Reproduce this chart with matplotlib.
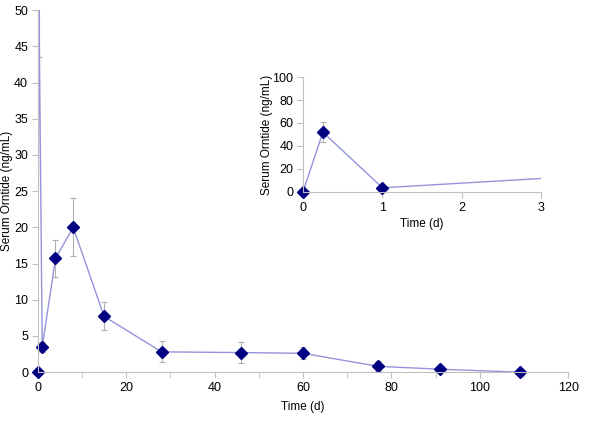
import numpy as np
import matplotlib.pyplot as plt

plt.rcParams['font.family'] = ['Liberation Sans', 'DejaVu Sans']

# serum ornitide over time
time_d = [0, 0.25, 1, 4, 8, 15, 28, 46, 60, 77, 91, 109]
conc = [0, 52, 3.5, 15.7, 20, 7.7, 2.8, 2.7, 2.6, 0.8, 0.4, 0]
err = [0, 8.5, 0.7, 2.6, 4.0, 1.95, 1.45, 1.45, 0.85, 0.7, 0.3, 0]

main_xticks = [0, 20, 40, 60, 80, 100, 120]
main_yticks = [0, 5, 10, 15, 20, 25, 30, 35, 40, 45, 50]
inset_xticks = [0, 1, 2, 3]
inset_yticks = [0, 20, 40, 60, 80, 100]

line_col = '#9494dc'
mark_col = '#000080'
err_col = '#b0b0b0'
axis_col = '#c0c0c0'

t = np.array(time_d)
c = np.array(conc)


def style(ax):
    for s in ['top', 'right']:
        ax.spines[s].set_visible(False)
    for s in ['left', 'bottom']:
        ax.spines[s].set_color(axis_col)
    ax.tick_params(colors=axis_col, labelcolor='black', labelsize=9,
                   direction='out', length=4, pad=3)


def draw(ax, xmax, ymax):
    ax.errorbar(t, c, yerr=err, fmt='none', ecolor=err_col, elinewidth=0.8,
                capsize=2.5, capthick=0.8)
    ax.plot(t, c, color=line_col, lw=1)
    keep = (c <= ymax) & (t <= xmax)
    ax.plot(t[keep], c[keep], 'D', color=mark_col, ms=6, clip_on=False)
    ax.set_xlim(0, xmax)
    ax.set_ylim(0, ymax)


fig = plt.figure(figsize=(6, 4.43), dpi=100)

ax = fig.add_axes([0.063, 0.160, 0.884, 0.817])
draw(ax, 120, 50)
ax.set_xticks(main_xticks)
ax.set_xticks(np.arange(0, 121, 10), minor=True)
ax.tick_params(which='minor', colors=axis_col, direction='out', length=4)
ax.set_yticks(main_yticks)
style(ax)
ax.set_xlabel('Time (d)', fontsize=8.5, labelpad=5)
ax.set_ylabel('Serum Orntide (ng/mL)', fontsize=8.5)
ax.yaxis.set_label_coords(-0.046, 0.5)

ins = fig.add_axes([0.505, 0.567, 0.397, 0.259])
draw(ins, 3, 100)
ins.set_xticks(inset_xticks)
ins.set_yticks(inset_yticks)
style(ins)
ins.set_xlabel('Time (d)', fontsize=8.5, labelpad=3)
ins.set_ylabel('Serum Orntide (ng/mL)', fontsize=8.5)
ins.yaxis.set_label_coords(-0.125, 0.5)

fig.savefig('out.png', dpi=100)
